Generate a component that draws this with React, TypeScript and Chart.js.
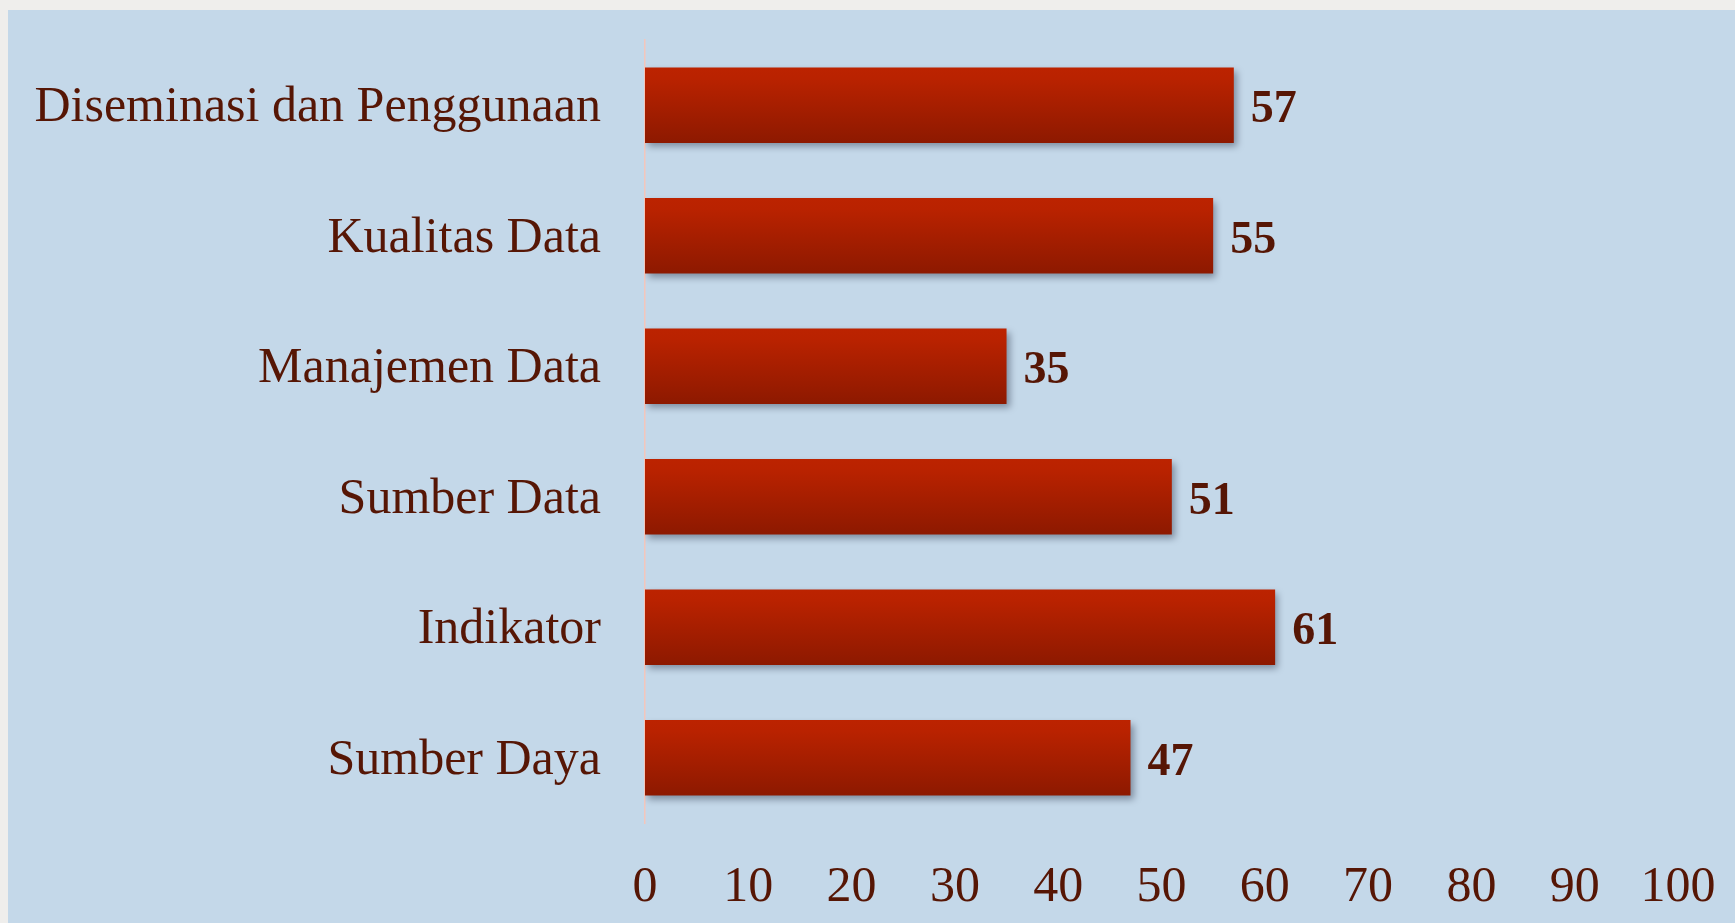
import React, { useEffect, useRef } from "react";
import { Chart, registerables } from "chart.js";

Chart.register(...registerables);

const categories = [
  "Diseminasi dan Penggunaan",
  "Kualitas Data",
  "Manajemen Data",
  "Sumber Data",
  "Indikator",
  "Sumber Daya",
];
const values = [57, 55, 35, 51, 61, 47];
const xTickMin = 0;
const xTickMax = 100;
const xTickStep = 10;

const TEXT = "#561605";
const BLUE = "#c4d8e9";
const PAPER = "#efeeec";
const FONT = "'Liberation Serif', 'DejaVu Serif', serif";
const BAR_PCT = 0.58;

export default function App() {
  const ref = useRef<HTMLCanvasElement | null>(null);

  useEffect(() => {
    if (!ref.current) return;

    const bgPlugin = {
      id: "bg",
      beforeDraw(chart: any) {
        const { ctx, width, height } = chart;
        ctx.save();
        ctx.fillStyle = PAPER;
        ctx.fillRect(0, 0, width, height);
        ctx.fillStyle = BLUE;
        ctx.fillRect(8, 10, width - 8, height - 10);
        ctx.restore();
      },
    };

    const shadowPlugin = {
      id: "shadow",
      beforeDatasetsDraw(chart: any) {
        const ctx = chart.ctx;
        ctx.save();
        ctx.shadowColor = "rgba(40,50,70,0.45)";
        ctx.shadowBlur = 7;
        ctx.shadowOffsetX = 3;
        ctx.shadowOffsetY = 4;
      },
      afterDatasetsDraw(chart: any) {
        chart.ctx.restore();
      },
    };

    const labelPlugin = {
      id: "valueLabels",
      afterDraw(chart: any) {
        const ctx = chart.ctx;
        const meta = chart.getDatasetMeta(0);
        ctx.save();
        ctx.fillStyle = TEXT;
        ctx.font = `bold 46px ${FONT}`;
        ctx.textAlign = "left";
        ctx.textBaseline = "middle";
        meta.data.forEach((el: any, i: number) => {
          ctx.fillText(String(values[i]), el.x + 17, el.y + 5);
        });
        ctx.restore();
      },
    };

    const chart = new Chart(ref.current, {
      type: "bar",
      data: {
        labels: categories,
        datasets: [
          {
            data: values,
            borderWidth: 0,
            categoryPercentage: 1,
            barPercentage: BAR_PCT,
            backgroundColor: (c: any) => {
              const ch = c.chart;
              const ys = ch.scales && ch.scales.y;
              if (!ch.chartArea || !ys || c.dataIndex === undefined) return "#a81f00";
              const step = Math.abs(ys.getPixelForValue(1) - ys.getPixelForValue(0));
              const half = (step * BAR_PCT) / 2;
              const yc = ys.getPixelForValue(c.dataIndex);
              const g = ch.ctx.createLinearGradient(0, yc - half, 0, yc + half);
              g.addColorStop(0, "#bc2300");
              g.addColorStop(0.15, "#b92200");
              g.addColorStop(1, "#8d1900");
              return g;
            },
          },
        ],
      },
      options: {
        indexAxis: "y",
        responsive: false,
        animation: false,
        layout: { padding: { top: 40, right: 57, bottom: 0, left: 0 } },
        plugins: {
          legend: { display: false },
          tooltip: { enabled: false },
        },
        scales: {
          x: {
            min: xTickMin,
            max: xTickMax,
            grid: { display: false, drawTicks: false },
            border: { display: false },
            ticks: {
              stepSize: xTickStep,
              color: TEXT,
              font: { family: FONT, size: 50 },
              padding: 35,
              maxRotation: 0,
              autoSkip: false,
            },
            afterFit: (s: any) => {
              s.height = 100;
              s.paddingLeft = 0;
              s.paddingRight = 0;
            },
          },
          y: {
            grid: { display: false, drawTicks: false },
            border: { display: true, color: "#f3c6bc", width: 1.5 },
            ticks: {
              color: TEXT,
              font: { family: FONT, size: 50 },
              padding: 44,
              labelOffset: 3,
              autoSkip: false,
            },
            afterFit: (s: any) => {
              s.width = 645;
              s.paddingTop = 0;
              s.paddingBottom = 0;
            },
          },
        },
      },
      plugins: [bgPlugin, shadowPlugin, labelPlugin],
    } as any);

    return () => chart.destroy();
  }, []);

  return (
    <div style={{ position: "fixed", left: 0, top: 0, width: 1735, height: 923 }}>
      <canvas ref={ref} width={1735} height={923} style={{ display: "block" }} />
    </div>
  );
}
